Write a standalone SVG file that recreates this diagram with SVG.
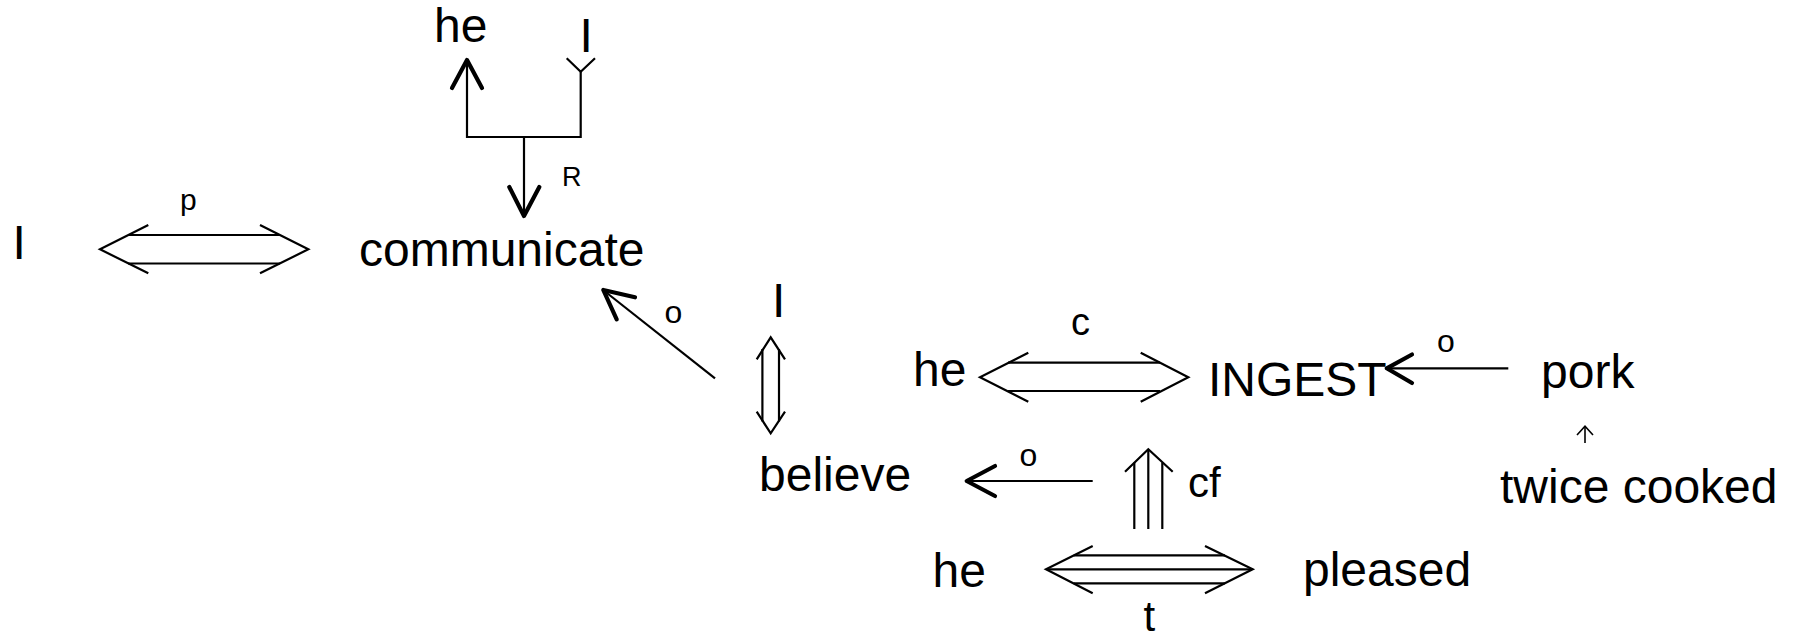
<svg xmlns="http://www.w3.org/2000/svg" width="1798" height="634" viewBox="0 0 1798 634">
<style>
text{font-family:"Liberation Sans",Arial,sans-serif;fill:#000}
.big{font-size:48px}
.lbl{font-size:32px}
.sm{font-size:27px}
.ln{stroke:#000;stroke-width:2.2;fill:none}
.hd{stroke:#000;stroke-width:4.2;fill:none;stroke-linecap:round;stroke-linejoin:round}
.th{stroke:#000;stroke-width:1.6;fill:none}
</style>
<rect width="1798" height="634" fill="#fff"/>
<g id="connectors">
  <g id="edge-p">
    <polyline class="ln" points="148.3,225 100,249.3 148.3,273.3"/>
    <polyline class="ln" points="260,225 308.3,249.3 260,273.3"/>
    <line class="ln" x1="128" y1="235" x2="280" y2="235"/>
    <line class="ln" x1="128" y1="263.5" x2="280" y2="263.5"/>
    <text x="180" y="210" style="font-size:30px">p</text>
  </g>
  <g id="edge-R">
    <polyline class="ln" points="467,62 467,137 580.7,137 580.7,71.7"/>
    <polyline class="hd" points="452,88 467,60 482,88"/>
    <polyline class="ln" points="566.7,58.3 580.7,71.7 595,58.3"/>
    <line class="ln" x1="524" y1="137" x2="524" y2="214"/>
    <polyline class="hd" points="509.3,187 524,216 539.3,187"/>
    <text class="sm" x="562" y="185.5">R</text>
  </g>
  <g id="edge-o1">
    <line class="ln" x1="715" y1="378.3" x2="605" y2="291.5"/>
    <polyline class="hd" points="635,297.3 603.3,290 616.7,319.3"/>
    <text class="lbl" x="664.4" y="323.3">o</text>
  </g>
  <g id="edge-dv">
    <polyline class="ln" points="756.7,359.3 770.7,337.3 785,359.3"/>
    <polyline class="ln" points="756.7,411.7 770.7,433.3 785,411.7"/>
    <line class="ln" x1="762.4" y1="349" x2="762.4" y2="421.5"/>
    <line class="ln" x1="779" y1="349" x2="779" y2="421.5"/>
  </g>
  <g id="edge-c">
    <polyline class="ln" points="1028.3,352.7 980,377.3 1028.3,401.7"/>
    <polyline class="ln" points="1140.7,352.7 1188.3,377.3 1140.7,401.7"/>
    <line class="ln" x1="1008" y1="362.7" x2="1160" y2="362.7"/>
    <line class="ln" x1="1008" y1="391" x2="1160" y2="391"/>
    <text x="1071" y="335" style="font-size:38px">c</text>
  </g>
  <g id="edge-o3">
    <line class="ln" x1="1508.3" y1="368.3" x2="1388" y2="368.3"/>
    <polyline class="hd" points="1412,354.5 1386.7,368.3 1412,383"/>
    <text class="lbl" x="1437" y="352">o</text>
  </g>
  <g id="edge-tc">
    <line class="th" x1="1585" y1="443" x2="1585" y2="426.5"/>
    <polyline class="th" points="1577,435 1585,426.3 1593,435"/>
  </g>
  <g id="edge-o2">
    <line class="ln" x1="1092.7" y1="481" x2="968" y2="481"/>
    <polyline class="hd" points="995,466 966.7,481 995,496"/>
    <text class="lbl" x="1019.4" y="465.6">o</text>
  </g>
  <g id="edge-cf">
    <polyline class="ln" points="1125,471.7 1148.3,449.3 1172.7,471.7"/>
    <line class="ln" x1="1134.3" y1="462.6" x2="1134.3" y2="529"/>
    <line class="ln" x1="1148.3" y1="450" x2="1148.3" y2="529"/>
    <line class="ln" x1="1162.3" y1="462.6" x2="1162.3" y2="529"/>
    <text x="1188" y="497" style="font-size:42px">cf</text>
  </g>
  <g id="edge-t">
    <polyline class="ln" points="1092.7,546 1046,569.3 1092.7,593.3"/>
    <polyline class="ln" points="1205,546 1252.7,569.3 1205,593.3"/>
    <line class="ln" x1="1073.8" y1="555.3" x2="1224.9" y2="555.3"/>
    <line class="ln" x1="1047" y1="569.3" x2="1251.5" y2="569.3"/>
    <line class="ln" x1="1073.8" y1="583.3" x2="1224.9" y2="583.3"/>
    <text x="1143.5" y="631" style="font-size:42px">t</text>
  </g>
</g>
<g id="n-he1"><text class="big" x="434" y="42">he</text></g>
<g id="n-I1"><text class="big" x="579.5" y="52">I</text></g>
<g id="n-I0"><text class="big" x="12.5" y="259">I</text></g>
<g id="n-communicate"><text class="big" x="359" y="266">communicate</text></g>
<g id="n-I2"><text class="big" x="772" y="317">I</text></g>
<g id="n-believe"><text class="big" x="759" y="491">believe</text></g>
<g id="n-he2"><text class="big" x="913" y="386">he</text></g>
<g id="n-INGEST"><text class="big" x="1208" y="395.6">INGEST</text></g>
<g id="n-pork"><text class="big" x="1541" y="388">pork</text></g>
<g id="n-twice"><text class="big" x="1500" y="503">twice cooked</text></g>
<g id="n-he3"><text class="big" x="932.5" y="586.5">he</text></g>
<g id="n-pleased"><text class="big" x="1303" y="586">pleased</text></g>
</svg>
